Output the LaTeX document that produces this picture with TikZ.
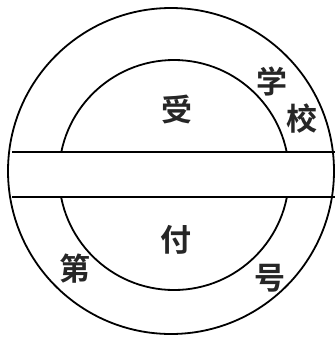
\documentclass[tikz,border=0pt]{standalone}
\usepackage{fontspec}
\newfontfamily\cjk{Noto Sans CJK SC}[BoldFont={Noto Sans CJK SC Bold}]
\begin{document}
\begin{tikzpicture}[x=1pt,y=-1pt,
  ring/.style={line width=1.8pt,black},
  band/.style={line width=2.6pt,black},
  lbl/.style={font=\cjk\bfseries\fontsize{31}{31}\selectfont,inner sep=0pt,text=black!85}]
\useasboundingbox (0,0) rectangle (335,338);
\coordinate (oc) at (171,171);
\draw[ring] (oc) circle (163);
% inner circle, cut by the band
\begin{scope}
\clip (0,0) rectangle (335,152);
\draw[ring] (174,175) circle (115);
\end{scope}
\begin{scope}
\clip (0,198) rectangle (335,338);
\draw[ring] (174,175) circle (115);
\end{scope}
\coordinate (tl) at (12,152);
\coordinate (tr) at (335,152);
\coordinate (bl) at (12,197);
\coordinate (br) at (335,197);
\draw[band] (tl) -- (tr);
\draw[band] (bl) -- (br);
\node[lbl] (shou) at (177,109) {受};
\node[lbl] (xue) at (272,81) {学};
\node[lbl] (xiao) at (302,119) {校};
\node[lbl] (fu) at (176,240) {付};
\node[lbl] (di) at (75,269) {第};
\node[lbl] (hao) at (270,278) {号};
\end{tikzpicture}
\end{document}
